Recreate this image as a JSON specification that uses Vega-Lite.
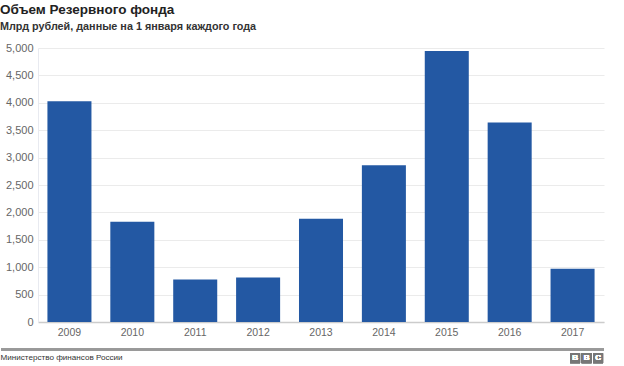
{
  "$schema": "https://vega.github.io/schema/vega-lite/v6.json",
  "width": 566,
  "height": 274,
  "padding": {"left": 0, "top": 2, "right": 20, "bottom": 0},
  "background": "white",
  "title": {
    "text": "Объем Резервного фонда",
    "subtitle": "Млрд рублей, данные на 1 января каждого года",
    "anchor": "start",
    "frame": "bounds",
    "dx": 0,
    "font": "Liberation Sans",
    "fontSize": 13.5,
    "fontWeight": "bold",
    "color": "#222222",
    "subtitleFont": "Liberation Sans",
    "subtitleFontSize": 10.8,
    "subtitleFontWeight": "bold",
    "subtitleColor": "#333333",
    "subtitlePadding": 5,
    "offset": 10
  },
  "data": {
    "values": [
      {"year": "2009", "value": 4027},
      {"year": "2010", "value": 1830},
      {"year": "2011", "value": 775},
      {"year": "2012", "value": 811},
      {"year": "2013", "value": 1886},
      {"year": "2014", "value": 2859},
      {"year": "2015", "value": 4945},
      {"year": "2016", "value": 3641},
      {"year": "2017", "value": 972}
    ]
  },
  "config": {
    "view": {"stroke": null},
    "font": "Liberation Sans",
    "axisX": {
      "titleFont": "Liberation Sans",
      "titleFontSize": 8.1,
      "titleFontWeight": "normal",
      "titleColor": "#333333",
      "titleAnchor": "start",
      "titleAlign": "left",
      "titleBaseline": "top",
      "titleX": -38,
      "titleY": 31,
      "labelAngle": 0,
      "labelFontSize": 10.5,
      "labelColor": "#666666",
      "labelPadding": 5,
      "ticks": false,
      "domainColor": "#cccccc",
      "domainWidth": 1.5,
      "grid": false
    },
    "axisY": {
      "labelFontSize": 11,
      "labelColor": "#666666",
      "labelPadding": 5,
      "ticks": false,
      "grid": true,
      "gridColor": "#ebebeb",
      "domain": true,
      "domainColor": "#e8eaf0"
    }
  },
  "encoding": {
    "x": {
      "field": "year",
      "type": "ordinal",
      "scale": {"paddingInner": 0.3, "paddingOuter": 0.15},
      "axis": {"title": "Министерство финансов России"}
    },
    "y": {
      "field": "value",
      "type": "quantitative",
      "scale": {"domain": [0, 5000], "nice": false},
      "axis": {
        "title": null,
        "values": [0, 500, 1000, 1500, 2000, 2500, 3000, 3500, 4000, 4500, 5000],
        "format": ",.0f"
      }
    }
  },
  "layer": [
    {
      "mark": {"type": "bar", "color": "#2358a3"}
    },
    {
      "mark": {"type": "rule", "color": "#999999", "strokeWidth": 2, "clip": false},
      "encoding": {
        "x": {"value": -37},
        "x2": {"value": 566},
        "y": {"datum": -500, "type": "quantitative"}
      }
    },
    {
      "mark": {"type": "point", "shape": "square", "size": 100, "filled": true, "opacity": 1, "color": "#777777", "xOffset": 2.5},
      "encoding": {
        "x": {"datum": "2017", "type": "ordinal"},
        "y": {"datum": -660, "type": "quantitative"}
      }
    },
    {
      "mark": {"type": "point", "shape": "square", "size": 100, "filled": true, "opacity": 1, "color": "#777777", "xOffset": 14},
      "encoding": {
        "x": {"datum": "2017", "type": "ordinal"},
        "y": {"datum": -660, "type": "quantitative"}
      }
    },
    {
      "mark": {"type": "point", "shape": "square", "size": 100, "filled": true, "opacity": 1, "color": "#777777", "xOffset": 25.5},
      "encoding": {
        "x": {"datum": "2017", "type": "ordinal"},
        "y": {"datum": -660, "type": "quantitative"}
      }
    },
    {
      "mark": {"type": "text", "text": "B", "fontWeight": "bold", "fontSize": 8, "color": "white", "align": "center", "baseline": "middle", "xOffset": 2.5},
      "encoding": {
        "x": {"datum": "2017", "type": "ordinal"},
        "y": {"datum": -660, "type": "quantitative"}
      }
    },
    {
      "mark": {"type": "text", "text": "B", "fontWeight": "bold", "fontSize": 8, "color": "white", "align": "center", "baseline": "middle", "xOffset": 14},
      "encoding": {
        "x": {"datum": "2017", "type": "ordinal"},
        "y": {"datum": -660, "type": "quantitative"}
      }
    },
    {
      "mark": {"type": "text", "text": "C", "fontWeight": "bold", "fontSize": 8, "color": "white", "align": "center", "baseline": "middle", "xOffset": 25.5},
      "encoding": {
        "x": {"datum": "2017", "type": "ordinal"},
        "y": {"datum": -660, "type": "quantitative"}
      }
    }
  ]
}
